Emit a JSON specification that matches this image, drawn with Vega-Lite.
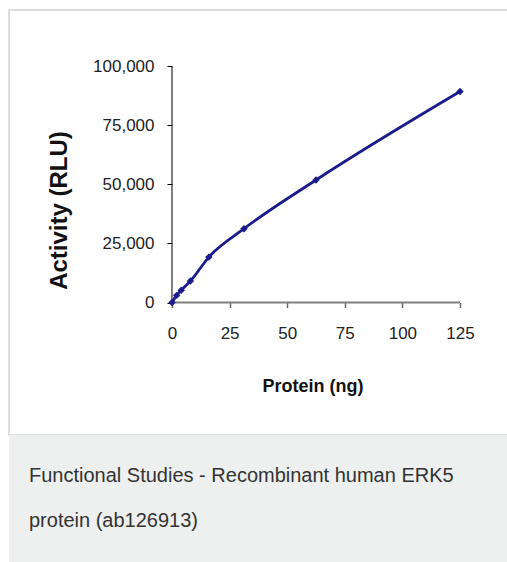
{
  "$schema": "https://vega.github.io/schema/vega-lite/v6.json",
  "background": "white",
  "padding": {"left": 8, "top": 9, "right": 0, "bottom": 0},
  "autosize": {"type": "pad"},
  "spacing": 0,
  "bounds": "flush",
  "vconcat": [
    {
      "width": 499,
      "height": 425,
      "view": {"fill": "white", "stroke": "#dedede", "strokeWidth": 2},
      "data": {"values": [
        {"protein": 0, "activity": 0},
        {"protein": 2, "activity": 3000},
        {"protein": 4, "activity": 5200},
        {"protein": 8, "activity": 9100},
        {"protein": 16, "activity": 19200},
        {"protein": 31.25, "activity": 31200},
        {"protein": 62.5, "activity": 51800},
        {"protein": 125, "activity": 89200}
      ]},
      "layer": [
        {
          "data": {"values": [{}]},
          "mark": {"type": "rule", "color": "#000000", "strokeWidth": 1},
          "encoding": {
            "x": {"datum": 0, "type": "quantitative"},
            "y": {"datum": 0, "type": "quantitative"},
            "y2": {"datum": 100000}
          }
        },
        {
          "data": {"values": [{}]},
          "mark": {"type": "rule", "color": "#808080", "strokeWidth": 2},
          "encoding": {
            "y": {"datum": 0, "type": "quantitative"},
            "x": {"datum": 0, "type": "quantitative"},
            "x2": {"datum": 125}
          }
        },
        {
          "mark": {"type": "line", "color": "#1b1b8c", "strokeWidth": 2.8, "interpolate": "monotone"},
          "encoding": {
            "x": {
              "field": "protein",
              "type": "quantitative",
              "scale": {"domain": [-70.746, 145.833], "nice": false, "zero": false},
              "axis": {
                "values": [0, 25, 50, 75, 100, 125],
                "offset": -132.5,
                "domain": false,
                "grid": false,
                "tickSize": 5,
                "tickColor": "#666666",
                "tickWidth": 1.5,
                "labelFont": "Liberation Sans",
                "labelFontSize": 17,
                "labelColor": "#222222",
                "labelPadding": 18,
                "labelFlush": false,
                "labelOverlap": false,
                "title": "Protein (ng)",
                "titleFont": "Liberation Sans",
                "titleFontSize": 18,
                "titleFontWeight": "bold",
                "titleColor": "#111111",
                "titleX": 303.5,
                "titleY": 89,
                "titleAlign": "center",
                "titleBaseline": "alphabetic"
              }
            },
            "y": {
              "field": "activity",
              "type": "quantitative",
              "scale": {"domain": [-56025, 123679], "nice": false, "zero": false},
              "axis": {
                "values": [0, 25000, 50000, 75000, 100000],
                "format": ",.0f",
                "offset": -163,
                "domain": false,
                "grid": false,
                "tickSize": 5,
                "tickColor": "#000000",
                "tickWidth": 1,
                "labelFont": "Liberation Sans",
                "labelFontSize": 17,
                "labelColor": "#222222",
                "labelPadding": 13,
                "labelOverlap": false,
                "title": "Activity (RLU)",
                "titleFont": "Liberation Sans",
                "titleFontSize": 24,
                "titleFontWeight": "bold",
                "titleColor": "#111111",
                "titleX": -113,
                "titleY": 200,
                "titleAngle": -90,
                "titleAlign": "center",
                "titleBaseline": "middle"
              }
            }
          }
        },
        {
          "mark": {"type": "point", "shape": "diamond", "filled": true, "size": 55, "color": "#1b1b8c", "opacity": 1},
          "encoding": {
            "x": {"field": "protein", "type": "quantitative"},
            "y": {"field": "activity", "type": "quantitative"}
          }
        }
      ]
    },
    {
      "width": 499,
      "height": 128,
      "view": {"fill": "#eef0ef", "stroke": null},
      "data": {"values": [{}]},
      "mark": {"type": "rect", "fill": "#eef0ef"},
      "encoding": {},
      "title": {
        "text": ["Functional Studies - Recombinant human ERK5", "protein (ab126913)"],
        "anchor": "start",
        "frame": "group",
        "orient": "top",
        "offset": -112,
        "dx": 20,
        "font": "Liberation Sans",
        "fontSize": 20,
        "fontWeight": "normal",
        "color": "#333333",
        "lineHeight": 45,
        "baseline": "alphabetic"
      }
    }
  ]
}
